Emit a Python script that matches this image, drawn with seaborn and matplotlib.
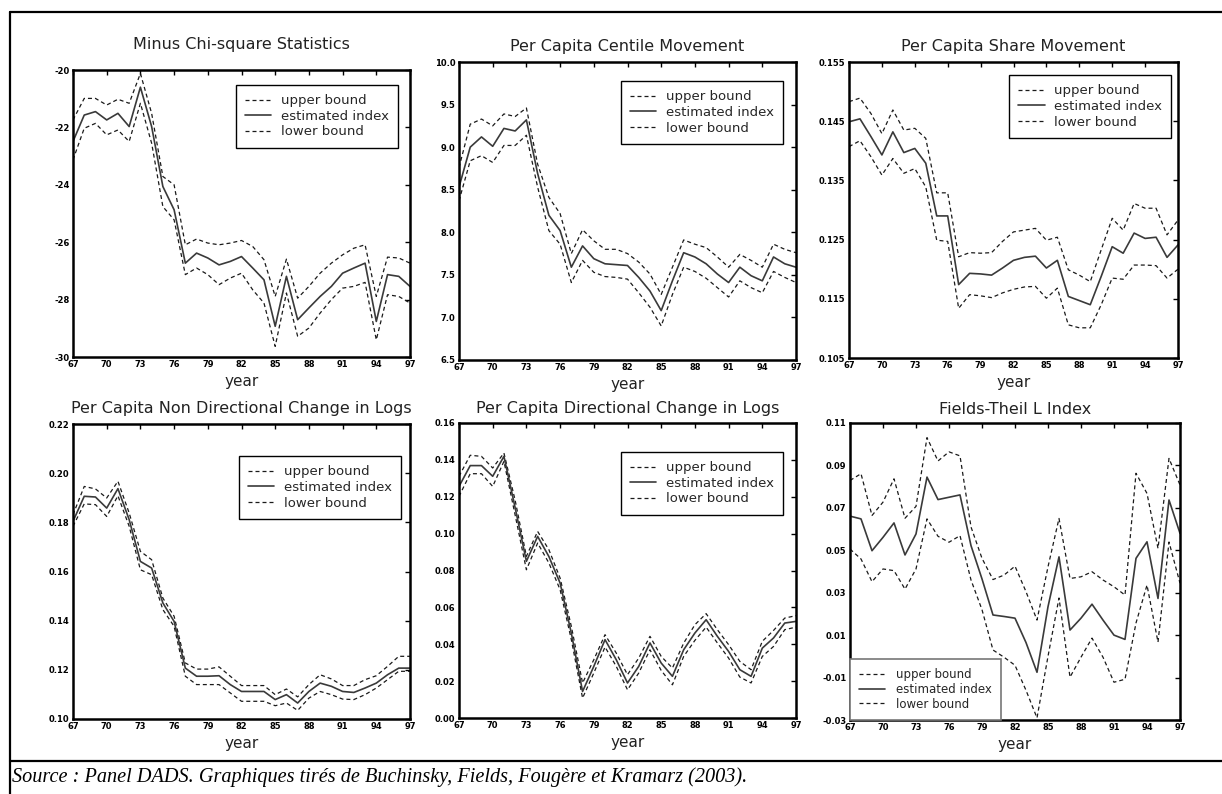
import matplotlib
matplotlib.use("Agg")
import matplotlib.pyplot as plt
import seaborn as sns
import pandas as pd
from matplotlib.lines import Line2D

# ---------------- data ----------------
years = list(range(67, 98))
xtick_vals = list(range(67, 98, 3))
xtick_labels = [str(v) for v in xtick_vals]
series_labels = ["upper bound", "estimated index", "lower bound"]

titles = ["Minus Chi-square Statistics", "Per Capita Centile Movement",
          "Per Capita Share Movement", "Per Capita Non Directional Change in Logs",
          "Per Capita Directional Change in Logs", "Fields-Theil L Index"]

# Panel 1: Minus Chi-square Statistics
chi_up = [-21.74, -20.99, -20.99, -21.22, -21.02, -21.16, -20.12, -21.51, -23.71, -24.00,
          -26.09, -25.89, -26.03, -26.09, -26.03, -25.94, -26.15, -26.61, -27.89, -26.59,
          -27.95, -27.54, -27.08, -26.73, -26.44, -26.21, -26.09, -27.89, -26.52, -26.55, -26.73]
chi_est = [-22.49, -21.57, -21.45, -21.74, -21.51, -21.97, -20.60, -21.97, -24.06, -24.87,
           -26.73, -26.38, -26.55, -26.79, -26.67, -26.50, -26.90, -27.31, -28.93, -27.19,
           -28.70, -28.29, -27.89, -27.54, -27.08, -26.90, -26.73, -28.76, -27.13, -27.19, -27.54]
chi_lo = [-23.13, -22.03, -21.86, -22.26, -22.09, -22.49, -21.16, -22.55, -24.76, -25.22,
          -27.13, -26.90, -27.13, -27.48, -27.25, -27.08, -27.66, -28.12, -29.63, -27.77,
          -29.28, -28.99, -28.47, -28.00, -27.60, -27.54, -27.40, -29.40, -27.83, -27.89, -28.12]
chi_yticks = [-30, -28, -26, -24, -22, -20]
chi_ylabels = ["-30", "-28", "-26", "-24", "-22", "-20"]

# Panel 2: Per Capita Centile Movement
cen_up = [8.76, 9.27, 9.33, 9.25, 9.39, 9.36, 9.46, 8.80, 8.41, 8.22,
          7.75, 8.03, 7.90, 7.80, 7.80, 7.75, 7.65, 7.51, 7.27, 7.59,
          7.91, 7.86, 7.82, 7.71, 7.59, 7.74, 7.67, 7.59, 7.86, 7.80, 7.76]
cen_est = [8.53, 9.00, 9.12, 9.01, 9.22, 9.19, 9.32, 8.69, 8.20, 8.02,
           7.59, 7.84, 7.69, 7.63, 7.62, 7.61, 7.47, 7.31, 7.08, 7.43,
           7.76, 7.71, 7.63, 7.51, 7.41, 7.59, 7.49, 7.43, 7.71, 7.63, 7.59]
cen_lo = [8.37, 8.84, 8.90, 8.82, 9.02, 9.02, 9.14, 8.53, 8.02, 7.86,
          7.41, 7.67, 7.53, 7.48, 7.47, 7.45, 7.29, 7.12, 6.90, 7.27,
          7.59, 7.54, 7.46, 7.35, 7.24, 7.43, 7.35, 7.29, 7.54, 7.47, 7.41]
cen_yticks = [6.5, 7.0, 7.5, 8.0, 8.5, 9.0, 9.5, 10.0]
cen_ylabels = ["6.5", "7.0", "7.5", "8.0", "8.5", "9.0", "9.5", "10.0"]

# Panel 3: Per Capita Share Movement
sha_up = [0.1483, 0.1489, 0.1463, 0.1429, 0.1469, 0.1435, 0.1438, 0.1421, 0.1329, 0.1329,
          0.1221, 0.1228, 0.1227, 0.1228, 0.1247, 0.1263, 0.1266, 0.1269, 0.1249, 0.1254,
          0.1199, 0.1190, 0.1179, 0.1233, 0.1286, 0.1266, 0.1311, 0.1303, 0.1303, 0.1258, 0.1283]
sha_est = [0.1449, 0.1454, 0.1424, 0.1393, 0.1432, 0.1397, 0.1404, 0.1379, 0.1290, 0.1290,
           0.1174, 0.1193, 0.1192, 0.1190, 0.1202, 0.1215, 0.1220, 0.1222, 0.1202, 0.1215,
           0.1154, 0.1147, 0.1140, 0.1188, 0.1238, 0.1227, 0.1261, 0.1252, 0.1254, 0.1220, 0.1241]
sha_lo = [0.1407, 0.1417, 0.1390, 0.1359, 0.1387, 0.1362, 0.1370, 0.1339, 0.1249, 0.1247,
          0.1134, 0.1157, 0.1155, 0.1152, 0.1160, 0.1166, 0.1170, 0.1171, 0.1151, 0.1168,
          0.1106, 0.1101, 0.1101, 0.1140, 0.1185, 0.1183, 0.1207, 0.1207, 0.1206, 0.1185, 0.1200]
sha_yticks = [0.105, 0.115, 0.125, 0.135, 0.145, 0.155]
sha_ylabels = ["0.105", "0.115", "0.125", "0.135", "0.145", "0.155"]

# Panel 4: Per Capita Non Directional Change in Logs
ndl_up = [0.1831, 0.1946, 0.1936, 0.1899, 0.1967, 0.1838, 0.1682, 0.1648, 0.1492, 0.1418,
          0.1228, 0.1203, 0.1203, 0.1212, 0.1174, 0.1136, 0.1136, 0.1136, 0.1099, 0.1122,
          0.1090, 0.1140, 0.1180, 0.1163, 0.1136, 0.1136, 0.1160, 0.1176, 0.1214, 0.1255, 0.1255]
ndl_est = [0.1804, 0.1906, 0.1903, 0.1858, 0.1937, 0.1811, 0.1641, 0.1614, 0.1472, 0.1397,
           0.1207, 0.1174, 0.1174, 0.1176, 0.1140, 0.1112, 0.1112, 0.1112, 0.1079, 0.1099,
           0.1065, 0.1112, 0.1146, 0.1133, 0.1112, 0.1108, 0.1126, 0.1146, 0.1180, 0.1207, 0.1207]
ndl_lo = [0.1784, 0.1875, 0.1872, 0.1824, 0.1908, 0.1784, 0.1607, 0.1587, 0.1445, 0.1377,
          0.1174, 0.1140, 0.1140, 0.1140, 0.1106, 0.1072, 0.1072, 0.1072, 0.1054, 0.1065,
          0.1035, 0.1085, 0.1112, 0.1099, 0.1081, 0.1079, 0.1099, 0.1126, 0.1160, 0.1194, 0.1194]
ndl_yticks = [0.10, 0.12, 0.14, 0.16, 0.18, 0.20, 0.22]
ndl_ylabels = ["0.10", "0.12", "0.14", "0.16", "0.18", "0.20", "0.22"]

# Panel 5: Per Capita Directional Change in Logs
dl_up = [0.1311, 0.1425, 0.1419, 0.1356, 0.1437, 0.1180, 0.0877, 0.1012, 0.0913, 0.0759,
         0.0497, 0.0190, 0.0316, 0.0452, 0.0352, 0.0235, 0.0325, 0.0443, 0.0334, 0.0271,
         0.0406, 0.0506, 0.0566, 0.0479, 0.0398, 0.0307, 0.0262, 0.0416, 0.0475, 0.0542, 0.0555]
dl_est = [0.1256, 0.1369, 0.1369, 0.1311, 0.1419, 0.1140, 0.0850, 0.0985, 0.0876, 0.0732,
          0.0460, 0.0144, 0.0280, 0.0425, 0.0316, 0.0190, 0.0280, 0.0407, 0.0298, 0.0226,
          0.0370, 0.0461, 0.0533, 0.0443, 0.0361, 0.0262, 0.0226, 0.0379, 0.0434, 0.0515, 0.0524]
dl_lo = [0.1202, 0.1325, 0.1325, 0.1256, 0.1392, 0.1100, 0.0804, 0.0949, 0.0841, 0.0696,
         0.0425, 0.0108, 0.0244, 0.0385, 0.0280, 0.0153, 0.0244, 0.0370, 0.0258, 0.0180,
         0.0334, 0.0421, 0.0493, 0.0407, 0.0325, 0.0222, 0.0190, 0.0334, 0.0388, 0.0479, 0.0493]
dl_yticks = [0.00, 0.02, 0.04, 0.06, 0.08, 0.10, 0.12, 0.14, 0.16]
dl_ylabels = ["0.00", "0.02", "0.04", "0.06", "0.08", "0.10", "0.12", "0.14", "0.16"]

# Panel 6: Fields-Theil L Index
ft_up = [0.0829, 0.0861, 0.0664, 0.0727, 0.0837, 0.0651, 0.0707, 0.1031, 0.0921, 0.0964,
         0.0945, 0.0610, 0.0462, 0.0362, 0.0383, 0.0425, 0.0305, 0.0171, 0.0422, 0.0650,
         0.0367, 0.0375, 0.0399, 0.0360, 0.0328, 0.0289, 0.0863, 0.0768, 0.0509, 0.0933, 0.0808]
ft_est = [0.0661, 0.0648, 0.0498, 0.0561, 0.0629, 0.0478, 0.0577, 0.0845, 0.0739, 0.0750,
          0.0761, 0.0522, 0.0365, 0.0195, 0.0188, 0.0180, 0.0065, -0.0075, 0.0234, 0.0469,
          0.0124, 0.0180, 0.0246, 0.0171, 0.0100, 0.0080, 0.0462, 0.0540, 0.0273, 0.0737, 0.0580]
ft_lo = [0.0506, 0.0459, 0.0352, 0.0412, 0.0404, 0.0317, 0.0412, 0.0648, 0.0566, 0.0538,
         0.0569, 0.0360, 0.0220, 0.0030, -0.0004, -0.0042, -0.0160, -0.0290, 0.0000, 0.0275,
         -0.0098, -0.0004, 0.0086, -0.0004, -0.0122, -0.0108, 0.0157, 0.0336, 0.0067, 0.0539, 0.0345]
ft_yticks = [-0.03, -0.01, 0.01, 0.03, 0.05, 0.07, 0.09, 0.11]
ft_ylabels = ["-0.03", "-0.01", "0.01", "0.03", "0.05", "0.07", "0.09", "0.11"]

panels = [
    (chi_up, chi_est, chi_lo, chi_yticks, chi_ylabels),
    (cen_up, cen_est, cen_lo, cen_yticks, cen_ylabels),
    (sha_up, sha_est, sha_lo, sha_yticks, sha_ylabels),
    (ndl_up, ndl_est, ndl_lo, ndl_yticks, ndl_ylabels),
    (dl_up, dl_est, dl_lo, dl_yticks, dl_ylabels),
    (ft_up, ft_est, ft_lo, ft_yticks, ft_ylabels),
]

# ---------------- layout (pixels) ----------------
W, H = 1222, 794
boxes = [(73, 70, 410, 357), (459, 62, 796, 360), (849, 62, 1178, 358),
         (73, 424, 410, 719), (459, 423, 796, 718), (850, 423, 1180, 720)]
title_y = [45, 46, 46, 408, 409, 409]
legend_anchor = [(0.964, 0.948), (0.961, 0.936), (0.979, 0.956),
                 (0.973, 0.891), (0.961, 0.902), None]

sns.set_style("white")
plt.rcParams['font.family'] = ['DejaVu Sans']
plt.rcParams['axes.unicode_minus'] = False

fig = plt.figure(figsize=(W / 100, H / 100), dpi=100)

dash = (0, (3.2, 2.4))
line_styles = [dict(color="#1a1a1a", linestyle=dash, linewidth=0.9),
               dict(color="#3a3a3a", linestyle="-", linewidth=1.2),
               dict(color="#1a1a1a", linestyle=dash, linewidth=0.9)]

for i, (up, est, lo, yt, yl) in enumerate(panels):
    l, t, r, b = boxes[i]
    ax = fig.add_axes([l / W, 1 - b / H, (r - l) / W, (b - t) / H])
    for vals, lab, st in zip([up, est, lo], series_labels, line_styles):
        df = pd.DataFrame({"year": years, "value": vals})
        sns.lineplot(data=df, x="year", y="value", ax=ax, label=lab, **st)
    ax.set_xlim(67, 97)
    ax.set_ylim(yt[0], yt[-1])
    ax.set_xticks(xtick_vals)
    ax.set_xticklabels(xtick_labels)
    ax.set_yticks(yt)
    ax.set_yticklabels(yl)
    ax.set_ylabel("")
    ax.set_xlabel("year", fontsize=11, labelpad=3, color="#222222")
    ax.tick_params(direction="in", length=3.5, width=1.0, top=True, right=True,
                   labelsize=6, pad=2.5, colors="black")
    for lbl in ax.get_xticklabels() + ax.get_yticklabels():
        lbl.set_fontweight("bold")
    for sp in ax.spines.values():
        sp.set_linewidth(1.8)
        sp.set_color("black")
    cx = (l + r) / 2 / W
    fig.text(cx, 1 - title_y[i] / H, titles[i], ha="center", va="center",
             fontsize=11.5, color="#222222")
    if legend_anchor[i] is not None:
        leg = ax.legend(loc="upper right", bbox_to_anchor=legend_anchor[i],
                        borderaxespad=0, fontsize=9.5, frameon=True, fancybox=False,
                        handlelength=2.0, handletextpad=0.7, labelspacing=0.2,
                        borderpad=0.7)
        leg.get_frame().set_edgecolor("black")
        leg.get_frame().set_linewidth(1.0)
    else:
        leg = ax.legend(loc="lower left", bbox_to_anchor=(0.0, 0.0), borderaxespad=0,
                        fontsize=8.5, frameon=True, fancybox=False,
                        handlelength=2.2, handletextpad=0.9, labelspacing=0.15,
                        borderpad=0.8)
        leg.get_frame().set_edgecolor("#777777")
        leg.get_frame().set_linewidth(1.2)
    leg.get_frame().set_facecolor("white")
    leg.get_frame().set_alpha(1)

# outer frame lines
def fig_line(x0, y0, x1, y1, lw=1.6):
    fig.add_artist(Line2D([x0 / W, x1 / W], [1 - y0 / H, 1 - y1 / H],
                          transform=fig.transFigure, color="black", linewidth=lw))

fig_line(10, 12, W, 12)
fig_line(10, 12, 10, H)
fig_line(10, 761, W, 761)

fig.text(12 / W, 1 - 777 / H,
         "Source : Panel DADS. Graphiques tirés de Buchinsky, Fields, Fougère et Kramarz (2003).",
         family=["Liberation Serif", "DejaVu Serif"], style="italic", fontsize=14.6,
         va="center", ha="left", color="black")

fig.savefig("out.png", dpi=100)
